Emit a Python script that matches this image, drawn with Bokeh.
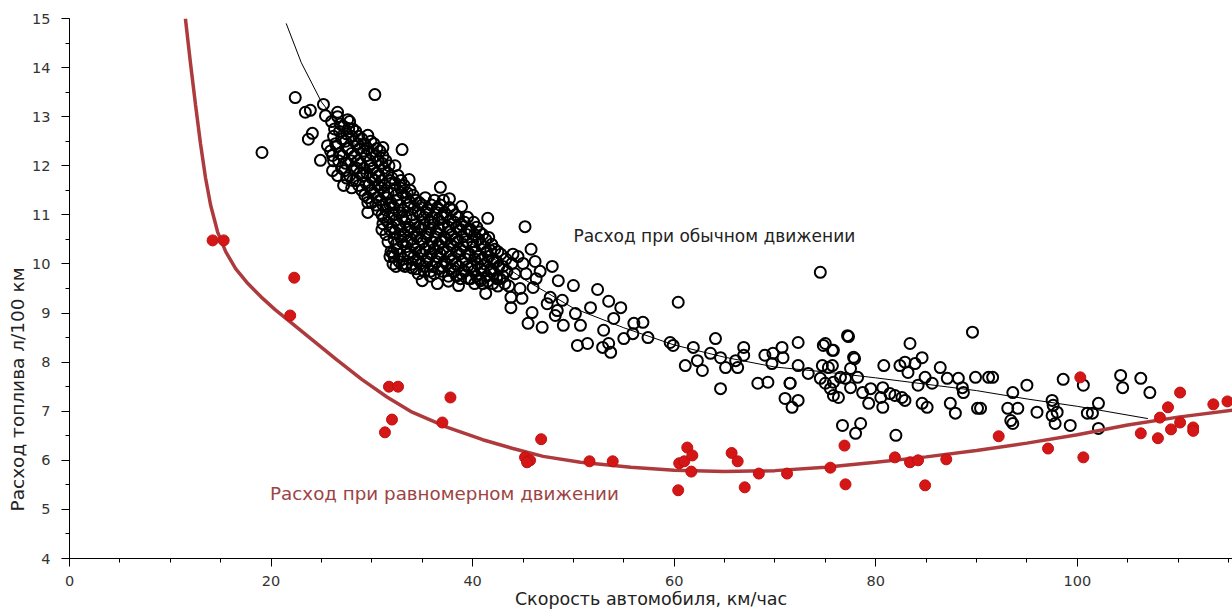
from bokeh.plotting import figure
from bokeh.models import Range1d, SingleIntervalTicker, Label, Title
from bokeh.embed import file_html
from bokeh.resources import INLINE

# ---- data (speed km/h, fuel l/100km) ----
# dense cluster of "normal driving" observations
cluster = [
    (26.0,12.9),(26.2,12.6),(25.9,12.3),(26.1,11.9),
    (26.6,13.0),(26.8,12.7),(26.5,12.4),(26.7,12.1),(26.6,11.8),
    (27.2,12.8),(27.4,12.5),(27.1,12.2),(27.3,11.9),(27.2,11.6),
    (27.8,12.9),(28.0,12.6),(27.7,12.35),(27.9,12.1),(27.8,11.8),(28.0,11.55),
    (28.4,12.7),(28.6,12.45),(28.3,12.2),(28.5,11.95),(28.4,11.7),
    (29.0,12.55),(29.2,12.3),(28.9,12.05),(29.1,11.8),(29.0,11.5),
    (29.6,12.35),(29.8,12.1),(29.5,11.85),(29.7,11.6),(29.6,11.35),
    (30.2,12.45),(30.4,12.2),(30.1,11.95),(30.3,11.7),(30.2,11.45),(30.4,11.2),
    (30.8,12.3),(31.0,12.05),(30.7,11.8),(30.9,11.55),(30.8,11.3),(31.0,11.0),
    (31.4,12.1),(31.6,11.85),(31.3,11.6),(31.5,11.35),(31.4,11.1),(31.6,10.85),(31.4,10.6),
    (32.0,11.75),(32.2,11.5),(31.9,11.25),(32.1,11.0),(32.0,10.75),(32.2,10.5),(31.9,10.25),(32.1,10.0),
    (32.6,11.8),(32.8,11.55),(32.5,11.3),(32.7,11.05),(32.6,10.8),(32.8,10.55),(32.5,10.3),(32.7,10.05),
    (33.2,11.6),(33.4,11.35),(33.1,11.1),(33.3,10.85),(33.2,10.6),(33.4,10.35),(33.1,10.1),(33.3,9.95),
    (33.8,11.25),(34.0,11.0),(33.7,10.75),(33.9,10.5),(33.8,10.25),(34.0,10.0),
    (34.4,11.3),(34.6,11.05),(34.3,10.8),(34.5,10.55),(34.4,10.3),(34.6,10.05),(34.4,9.9),
    (35.0,11.2),(35.2,10.95),(34.9,10.7),(35.1,10.45),(35.0,10.2),(35.2,9.95),
    (35.6,11.1),(35.8,10.85),(35.5,10.6),(35.7,10.35),(35.6,10.1),(35.8,9.85),
    (36.2,11.3),(36.4,11.05),(36.1,10.8),(36.3,10.55),(36.2,10.3),(36.4,10.05),(36.2,9.8),
    (36.8,11.2),(37.0,10.95),(36.7,10.7),(36.9,10.45),(36.8,10.2),(37.0,9.95),
    (37.4,11.0),(37.6,10.75),(37.3,10.5),(37.5,10.25),(37.4,10.0),(37.6,9.75),
    (38.0,11.1),(38.2,10.85),(37.9,10.6),(38.1,10.35),(38.0,10.1),(38.2,9.85),
    (38.6,10.95),(38.8,10.7),(38.5,10.45),(38.7,10.2),(38.6,9.95),(38.8,9.7),
    (39.2,10.85),(39.4,10.6),(39.1,10.35),(39.3,10.1),(39.2,9.85),
    (39.8,10.7),(40.0,10.45),(39.7,10.2),(39.9,9.95),(39.8,9.7),
    (40.4,10.75),(40.6,10.5),(40.3,10.25),(40.5,10.0),(40.4,9.75),
    (41.0,10.6),(41.2,10.35),(40.9,10.1),(41.1,9.85),(41.0,9.6),
    (41.6,10.15),(41.8,9.9),(41.5,9.65),
    (42.2,10.3),(42.4,10.05),(42.1,9.8),
    (42.8,10.2),(43.0,9.95),(42.7,9.7),
]

# second, interleaved layer of the dense cluster
cluster_inner = [
    (26.3,12.75),(26.4,12.45),(26.2,12.1),
    (26.9,12.85),(27.0,12.55),(26.8,12.25),(27.0,11.95),
    (27.5,12.65),(27.6,12.35),(27.4,12.05),(27.5,11.75),
    (28.1,12.75),(28.2,12.5),(28.0,12.25),(28.2,11.95),(28.1,11.7),
    (28.7,12.6),(28.8,12.35),(28.6,12.1),(28.8,11.85),(28.7,11.6),
    (29.3,12.45),(29.4,12.2),(29.2,11.95),(29.4,11.65),(29.3,11.4),
    (29.9,12.5),(30.0,12.25),(29.8,12.0),(30.0,11.75),(29.9,11.5),(30.0,11.25),
    (30.5,12.35),(30.6,12.1),(30.4,11.85),(30.6,11.6),(30.5,11.35),(30.6,11.1),
    (31.1,12.2),(31.2,11.95),(31.0,11.7),(31.2,11.45),(31.1,11.2),(31.2,10.95),(31.0,10.7),
    (31.7,12.0),(31.8,11.7),(31.6,11.45),(31.8,11.2),(31.7,10.95),(31.8,10.7),(31.6,10.45),(31.8,10.15),
    (32.3,11.65),(32.4,11.4),(32.2,11.15),(32.4,10.9),(32.3,10.65),(32.4,10.4),(32.2,10.15),(32.4,9.95),
    (32.9,11.7),(33.0,11.45),(32.8,11.2),(33.0,10.95),(32.9,10.7),(33.0,10.45),(32.8,10.2),(33.0,9.98),
    (33.5,11.45),(33.6,11.2),(33.4,10.95),(33.6,10.7),(33.5,10.45),(33.6,10.2),(33.4,10.0),
    (34.1,11.4),(34.2,11.15),(34.0,10.9),(34.2,10.65),(34.1,10.4),(34.2,10.15),(34.0,9.92),
    (34.7,11.25),(34.8,11.0),(34.6,10.75),(34.8,10.5),(34.7,10.25),(34.8,10.0),(34.6,9.8),
    (35.3,11.35),(35.4,11.05),(35.2,10.8),(35.4,10.55),(35.3,10.3),(35.4,10.05),(35.2,9.85),
    (35.9,11.2),(36.0,10.95),(35.8,10.7),(36.0,10.45),(35.9,10.2),(36.0,9.95),(35.8,9.75),
    (36.5,11.15),(36.6,10.9),(36.4,10.65),(36.6,10.4),(36.5,10.15),(36.6,9.9),
    (37.1,11.3),(37.2,11.05),(37.0,10.8),(37.2,10.55),(37.1,10.3),(37.2,10.05),(37.0,9.85),
    (37.7,11.15),(37.8,10.9),(37.6,10.65),(37.8,10.4),(37.7,10.15),(37.8,9.9),(37.6,9.65),
    (38.3,11.0),(38.4,10.75),(38.2,10.5),(38.4,10.25),(38.3,10.0),(38.4,9.75),
    (38.9,10.8),(39.0,10.55),(38.8,10.3),(39.0,10.05),(38.9,9.8),
    (39.5,10.95),(39.6,10.7),(39.4,10.45),(39.6,10.2),(39.5,9.95),(39.6,9.7),
    (40.1,10.85),(40.2,10.6),(40.0,10.35),(40.2,10.1),(40.1,9.85),(40.2,9.6),
    (40.7,10.65),(40.8,10.4),(40.6,10.15),(40.8,9.9),(40.7,9.7),
    (41.3,10.5),(41.4,10.25),(41.2,10.0),(41.4,9.75),
    (41.9,10.4),(42.0,10.1),(41.8,9.85),(42.0,9.6),
    (42.5,10.25),(42.6,9.95),(42.4,9.7),
    (43.3,10.1),(43.4,9.85),(43.2,9.6),
    (44.5,10.15),(45.3,9.8),(43.6,9.55),(46.3,9.7),(44.9,9.3),(45.8,10.3),
]

# remaining "normal driving" observations
scattered = [
    (22.4,13.39),(30.3,13.45),(23.4,13.09),(23.9,13.13),(19.1,12.27),(24.1,12.66),
    (23.7,12.54),(25.2,13.25),(25.4,13.02),(26.6,13.09),(25.6,12.41),(24.9,12.11),
    (26.1,12.21),(27.6,12.94),(27.7,12.76),(29.6,12.62),(31.1,12.37),(33.0,12.33),
    (32.3,12.0),(33.7,11.72),(36.8,11.56),(37.7,11.33),(38.9,11.17),(41.5,10.93),
    (33.8,11.5),(29.6,11.25),(29.6,11.05),(31.1,10.82),(32.1,10.23),(35.0,9.66),
    (36.5,9.6),(38.6,9.56),(41.3,9.4),(40.8,9.66),
    (45.2,10.76),(41.6,10.54),(41.8,10.27),(42.1,10.03),(43.9,10.01),(45.0,10.01),
    (46.7,9.85),(47.9,9.95),(48.5,9.66),(50.0,9.56),(52.4,9.48),(53.5,9.24),
    (54.7,9.11),(60.4,9.22),(51.7,9.11),(50.2,8.99),(48.9,9.26),(47.7,9.32),
    (46.0,9.52),(44.7,9.5),(43.8,9.32),(43.8,9.11),(45.9,9.01),(47.4,9.19),
    (48.4,9.05),(49.0,8.75),(45.5,8.79),(46.9,8.71),(48.2,8.95),(50.7,8.75),
    (53.0,8.65),(54.0,8.89),(56.0,8.79),(56.9,8.81),(57.4,8.5),(55.0,8.48),
    (55.9,8.58),(50.4,8.34),(51.4,8.38),(53.5,8.38),(53.7,8.2),(52.9,8.3),
    (59.6,8.4),(59.9,8.34),(61.9,8.3),(64.1,8.48),(63.6,8.18),(61.1,7.93),
    (62.3,8.03),(62.8,7.83),(65.1,7.89),(64.6,8.09),(66.1,8.03),(66.9,8.3),
    (66.9,8.14),(66.3,7.89),(64.6,7.46),(69.0,8.14),(69.8,8.18),(70.7,8.3),
    (72.3,8.4),(74.8,8.34),(75.8,8.24),(77.2,8.54),(74.5,9.83),(69.7,7.97),
    (68.3,7.57),(69.3,7.59),(71.5,7.57),(75.3,7.89),(76.5,7.69),(77.8,8.1),
    (75.8,7.59),(43.0,9.75),(44.2,9.8),(42.5,9.55),(44.0,10.2),(46.2,10.05),
    (75.0,8.38),(75.7,8.24),(77.3,8.52),(70.8,8.09),(72.3,7.93),(73.3,7.77),
    (71.5,7.57),(71.0,7.26),(72.3,7.22),(71.7,7.08),(74.7,7.93),(75.7,7.93),
    (74.5,7.67),(75.0,7.57),(75.5,7.46),(75.8,7.32),(76.3,7.28),(77.5,7.87),
    (77.9,8.07),(77.0,7.67),(78.2,7.69),(77.5,7.48),(78.7,7.38),(79.3,7.16),
    (79.5,7.46),(80.7,7.48),(80.5,7.28),(80.7,7.08),(80.8,7.93),(82.4,7.93),
    (82.9,8.0),(83.4,8.38),(83.9,7.97),(83.2,7.79),(84.6,8.09),(81.4,7.36),
    (81.9,7.32),(82.6,7.28),(82.9,7.22),(84.2,7.53),(84.9,7.69),(84.6,7.16),
    (85.1,7.08),(85.6,7.57),(86.4,7.89),(87.1,7.67),(88.2,7.67),(87.4,7.16),
    (87.9,6.96),(88.6,7.48),(88.7,7.38),(89.9,7.69),(91.2,7.69),(91.6,7.69),
    (89.6,8.61),(90.1,7.06),(90.4,7.06),(93.4,6.81),(93.6,6.75),(93.1,7.06),
    (94.1,7.06),(93.6,7.38),(95.0,7.53),(96.0,6.98),(97.5,7.22),(97.6,7.12),
    (97.5,6.91),(97.8,6.75),(98.0,6.98),(98.6,7.65),(99.3,6.71),(100.6,7.53),
    (101.0,6.96),(101.5,6.96),(102.1,7.16),(102.1,6.65),(104.3,7.73),(104.5,7.48),
    (106.3,7.67),(107.2,7.38),(76.7,6.71),(78.5,6.75),(78.0,6.55),(82.0,6.51),
]

# fitted line through the normal-driving observations
normal_fit_speed = [21.5, 23, 25, 28, 31, 35, 40, 45, 50, 55, 60, 65, 70, 75, 80, 85, 90, 95, 100, 107]
normal_fit_fuel = [14.9, 14.1, 13.3, 12.5, 11.9, 11.2, 10.4, 9.7, 9.1, 8.7, 8.35, 8.1, 7.9, 7.8, 7.68, 7.55, 7.42, 7.25, 7.1, 6.85]

# steady-speed observations (red dots)
steady = [
    (14.2,10.48),(15.3,10.48),(22.3,9.72),(21.9,8.95),
    (31.7,7.5),(32.6,7.5),(37.8,7.28),(32.0,6.83),(31.3,6.57),(37.0,6.77),
    (46.8,6.43),(45.2,6.06),(45.7,6.0),(45.4,5.96),(51.6,5.98),(53.9,5.98),
    (60.5,5.94),(61.0,5.98),(60.4,5.39),(61.3,6.26),(61.8,6.1),(61.7,5.77),
    (65.7,6.15),(66.3,5.98),(67.0,5.45),(68.4,5.73),(71.2,5.73),
    (75.5,5.85),(76.9,6.30),(77.0,5.51),
    (81.9,6.06),(83.4,5.96),(84.2,6.0),(84.9,5.49),(87.0,6.02),
    (92.2,6.49),(97.1,6.24),(100.3,7.69),(100.6,6.06),
    (106.3,6.55),(108.0,6.45),(108.2,6.87),(109.0,7.08),(109.3,6.63),(110.2,7.38),
    (110.2,6.77),(111.5,6.67),(111.5,6.6),(113.5,7.14),(114.9,7.20),
]

# fitted curve through the steady-speed observations
steady_fit_speed = [11.5, 12.0, 12.5, 13.0, 13.5, 14.0, 14.7, 15.5, 16.5, 17.7, 19.0, 20.4, 21.9, 24.0,
                    26.5, 29.0, 31.5, 34, 37.5, 41, 44, 47, 50.7, 55.7, 60, 65, 70, 75, 80, 85, 90, 95,
                    100, 105, 110, 115.4]
steady_fit_fuel = [15.0, 14.1, 13.25, 12.45, 11.75, 11.2, 10.65, 10.25, 9.9, 9.6, 9.33, 9.07, 8.82, 8.47,
                   8.05, 7.65, 7.29, 6.98, 6.67, 6.42, 6.24, 6.08, 5.96, 5.86, 5.8, 5.77, 5.79, 5.86, 5.96, 6.07, 6.2, 6.35,
                   6.52, 6.72, 6.88, 7.02]

x_title = "Скорость автомобиля, км/час"
y_title = "Расход топлива л/100 км"
label_normal = "Расход при обычном движении"
label_steady = "Расход при равномерном движении"

FONT = "DejaVu Sans"

p = figure(width=1232, height=612, x_range=Range1d(0, 115.4), y_range=Range1d(4, 15),
           output_backend="svg", toolbar_location=None,
           min_border_left=69, min_border_right=0, min_border_top=18, min_border_bottom=54)
p.outline_line_color = None
p.grid.visible = False
p.background_fill_color = "white"

p.xaxis.ticker = SingleIntervalTicker(interval=20, num_minor_ticks=4)
p.yaxis.ticker = SingleIntervalTicker(interval=1, num_minor_ticks=2)
for ax in (p.xaxis[0], p.yaxis[0]):
    ax.axis_line_color = "black"
    ax.major_tick_line_color = "black"
    ax.minor_tick_line_color = "black"
    ax.major_tick_out = 8
    ax.major_tick_in = 0
    ax.minor_tick_out = 4
    ax.minor_tick_in = 0
    ax.major_label_text_font = FONT
    ax.major_label_text_font_size = "14.5px"
    ax.major_label_text_color = "#333333"
p.xaxis.major_label_standoff = 9
p.yaxis.major_label_standoff = 11
p.xaxis.axis_label = x_title
p.xaxis.axis_label_text_font = FONT
p.xaxis.axis_label_text_font_size = "17.5px"
p.xaxis.axis_label_text_font_style = "normal"
p.xaxis.axis_label_text_color = "#222222"
p.xaxis.axis_label_standoff = 0

p.add_layout(Title(text=y_title, align="left", offset=47, standoff=3, text_font=FONT,
                   text_font_size="18.5px", text_font_style="normal", text_color="#222222"), "left")

circle_kw = dict(size=11, marker="circle", fill_color=None, line_color="black", line_width=2)
p.scatter([c[0] for c in cluster], [c[1] for c in cluster], **circle_kw)
p.scatter([c[0] for c in cluster_inner], [c[1] for c in cluster_inner], **circle_kw)
p.scatter([c[0] for c in scattered], [c[1] for c in scattered], **circle_kw)
p.line(normal_fit_speed, normal_fit_fuel, line_color="black", line_width=1)

p.line(steady_fit_speed, steady_fit_fuel, line_color="#ad3b3d", line_width=3.5)
p.scatter([s[0] for s in steady], [s[1] for s in steady], size=11, marker="circle",
          fill_color="#d41616", line_color="#c01010", line_width=1)

p.add_layout(Label(x=50.0, y=10.56, text=label_normal, text_font=FONT, text_font_size="17px",
                   text_color="#222222", text_baseline="middle", text_align="left"))
p.add_layout(Label(x=19.9, y=5.33, text=label_steady, text_font=FONT, text_font_size="18.3px",
                   text_color="#9c4444", text_baseline="middle", text_align="left"))

open("out.html", "w").write(file_html(p, INLINE))
